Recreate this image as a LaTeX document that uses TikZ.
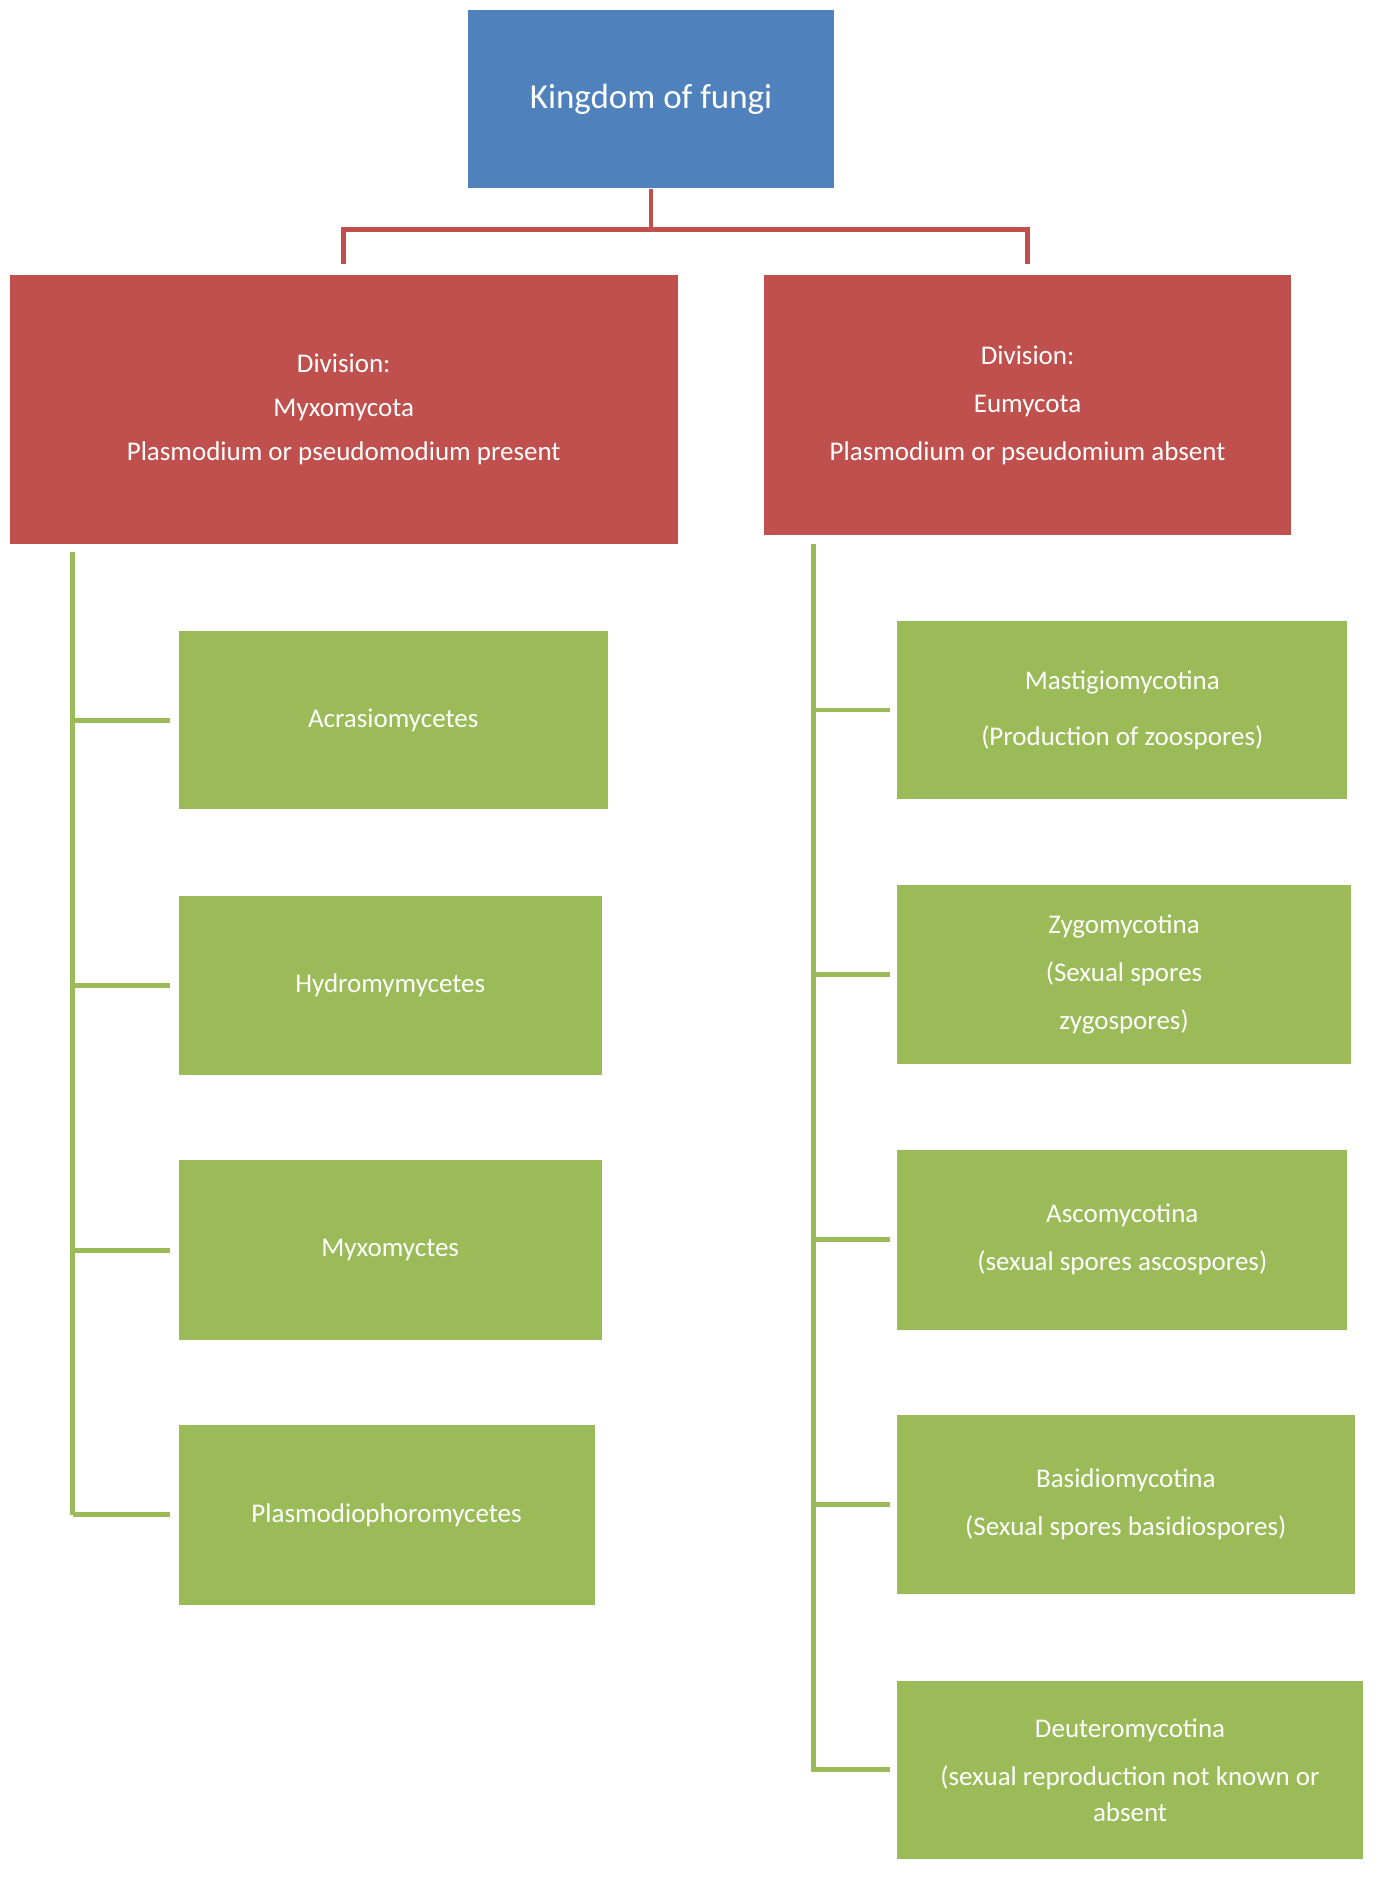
\documentclass[tikz,border=0pt]{standalone}
\usepackage{fontspec}
\setmainfont{Carlito}
\begin{document}
\def\u{0.5957pt}
\begin{tikzpicture}[x=0.5957pt,y=-0.5957pt,
  box/.style={draw=none,text=white,align=center,inner sep=0pt,font=\fontsize{13.5}{22}\selectfont},
  blue/.style={box,fill={rgb,255:red,79;green,129;blue,189}},
  red/.style={box,fill={rgb,255:red,192;green,80;blue,77}},
  green/.style={box,fill={rgb,255:red,155;green,187;blue,89}},
  rl/.style={draw={rgb,255:red,192;green,80;blue,77},line width=4*\u},
  gl/.style={draw={rgb,255:red,155;green,187;blue,89},line width=4*\u}]
\useasboundingbox (0,0) rectangle (1160,1578);
\node[blue,minimum width=307*\u,minimum height=150*\u,font=\fontsize{17.5}{22}\selectfont] (k) at (546.5,83) {Kingdom of fungi};
\node[red,minimum width=561*\u,minimum height=226*\u] (l) at (288.5,344) {Division:\\Myxomycota\\Plasmodium or pseudomodium present};
\node[red,minimum width=443*\u,minimum height=218*\u] (r) at (862.5,340) {Division:\\[2pt]Eumycota\\[2pt]Plasmodium or pseudomium  absent};
\draw[rl] (k.south) -- ++(0,34) coordinate (kj) -| ([yshift=9*\u]l.north);
\draw[rl] (kj) -| ([yshift=9*\u]r.north);

\node[green,minimum width=360*\u,minimum height=149*\u] (a1) at (330,604.5) {Acrasiomycetes};
\node[green,minimum width=355*\u,minimum height=150*\u] (a2) at (327.5,827) {Hydromymycetes};
\node[green,minimum width=355*\u,minimum height=151*\u] (a3) at (327.5,1049.5) {Myxomyctes};
\node[green,minimum width=349*\u,minimum height=151*\u] (a4) at (324.5,1271.5) {Plasmodiophoromycetes};

\node[green,minimum width=378*\u,minimum height=150*\u] (b1) at (942,596) {Mastigiomycotina\\[6pt](Production of zoospores)};
\node[green,minimum width=381*\u,minimum height=150*\u] (b2) at (943.5,818) {Zygomycotina\\[2pt](Sexual spores\\[2pt]zygospores)};
\node[green,minimum width=378*\u,minimum height=151*\u] (b3) at (942,1040.5) {Ascomycotina\\[2pt](sexual spores ascospores)};
\node[green,minimum width=384*\u,minimum height=150*\u] (b4) at (945,1263) {Basidiomycotina\\[2pt](Sexual spores basidiospores)};
\node[green,minimum width=391*\u,minimum height=149*\u] (b5) at (948.5,1485.5) {Deuteromycotina\\[2pt](sexual reproduction not known or\\[-4pt]absent};

\coordinate (lt) at (61,463);
\coordinate (lb) at (61,1272);
\draw[gl] (lt) -- (lb);
\foreach \n in {a1,a2,a3,a4}{\draw[gl] (lt|-\n.west) -- ([xshift=-7*\u]\n.west);}
\coordinate (rt) at (683,457);
\coordinate (rb) at (683,1487);
\draw[gl] (rt) -- (rb);
\foreach \n in {b1,b2,b3,b4,b5}{\draw[gl] (rt|-\n.west) -- ([xshift=-6*\u]\n.west);}
\end{tikzpicture}
\end{document}
